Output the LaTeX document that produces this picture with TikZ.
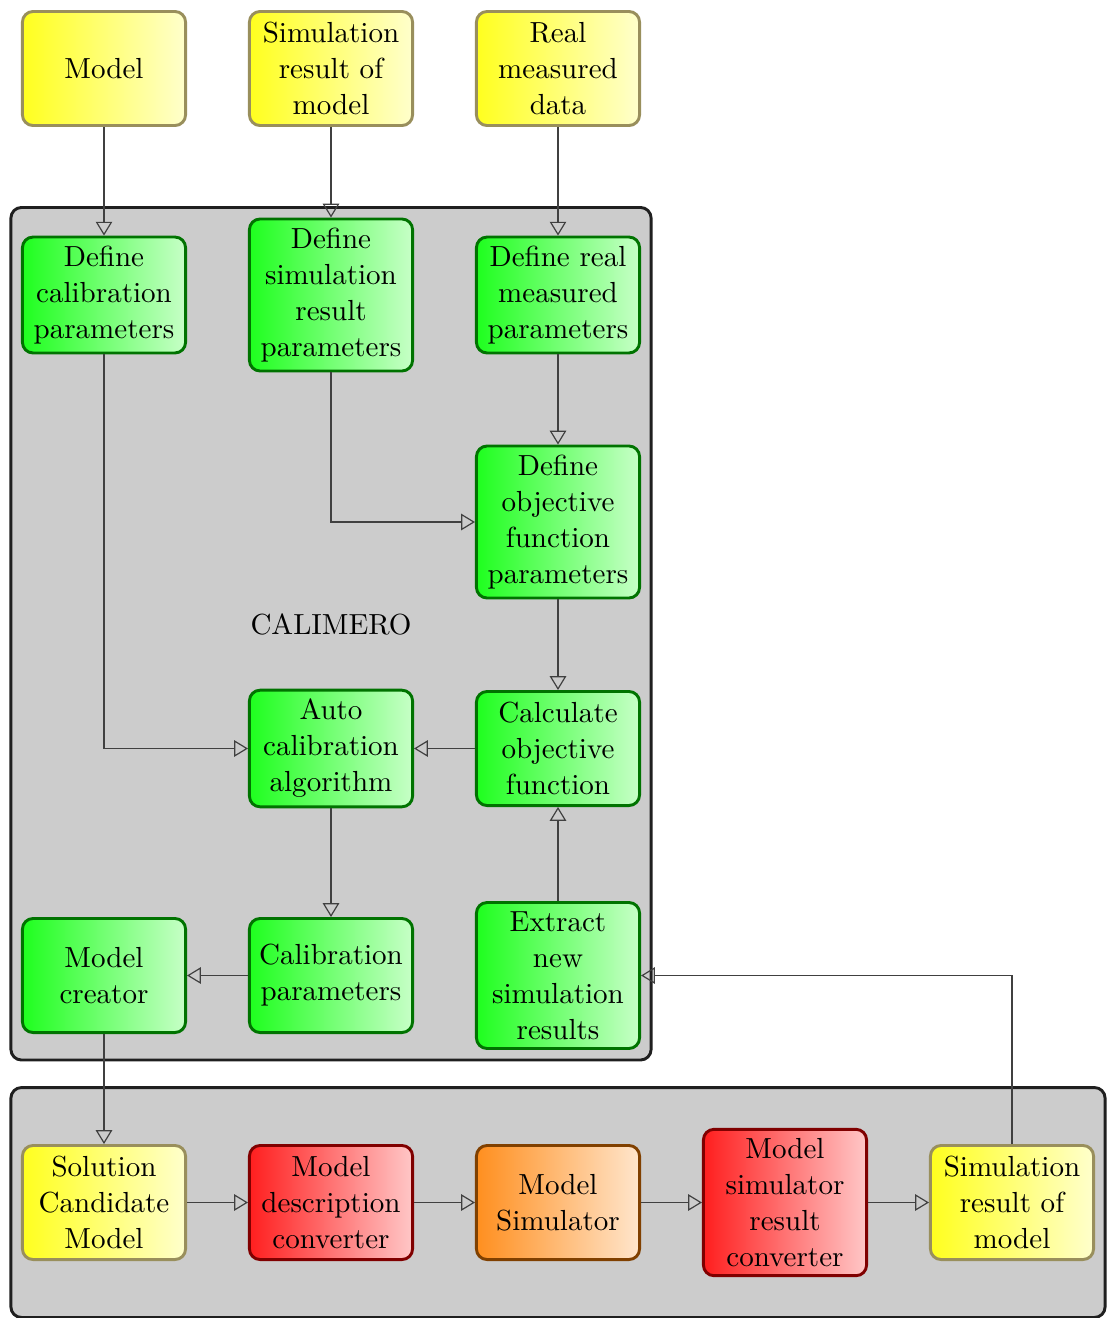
\documentclass[tikz,border=0pt]{standalone}
\usetikzlibrary{arrows.meta,fit,backgrounds}
\definecolor{yborder}{RGB}{153,143,92}
\definecolor{gborder}{RGB}{0,115,0}
\begin{document}
\begin{tikzpicture}[x=0.377pt,y=-0.377pt,
  box/.style={rectangle, rounded corners=4pt, line width=1.1pt,
    minimum width=61.5pt, minimum height=43pt, align=center,
    font=\fontsize{10.95}{13.6}\selectfont},
  ybox/.style={box, draw=yborder, left color=yellow!88, right color=yellow!20},
  gbox/.style={box, draw=gborder, left color=green!88, right color=green!22},
  rbox/.style={box, draw=red!50!black, left color=red!88, right color=red!22},
  obox/.style={box, draw=orange!50!black, left color=orange!88, right color=orange!20},
  container/.style={rectangle, rounded corners=4pt, line width=1.1pt,
    draw=black!88, fill=black!20, inner sep=3.8pt},
  flow/.style={draw=black!75, line width=0.45pt,
    -{Triangle[open,length=5.2pt,width=6.2pt]}}]
  \useasboundingbox (0,0) rectangle (1111,1318);

  % inputs
  \node[ybox] (model)  at (104,68.5) {Model};
  \node[ybox] (simin)  at (331,68.5) {Simulation\\result of\\model};
  \node[ybox] (real)   at (558,68.5) {Real\\measured\\data};

  % CALIMERO steps
  \node[gbox] (defcal)  at (104,295) {Define\\calibration\\parameters};
  \node[gbox] (defsim)  at (331,295) {Define\\simulation\\result\\parameters};
  \node[gbox] (defreal) at (558,295) {Define real\\measured\\parameters};
  \node[gbox] (defobj)  at (558,522) {Define\\objective\\function\\parameters};
  \node[gbox] (auto)    at (331,748.5) {Auto\\calibration\\algorithm};
  \node[gbox] (calcobj) at (558,748.5) {Calculate\\objective\\function};
  \node[gbox] (creator) at (104,975.5) {Model\\creator};
  \node[gbox] (calpar)  at (331,975.5) {Calibration\\parameters};
  \node[gbox] (extract) at (558,975.5) {Extract\\new\\simulation\\results};

  % simulation chain
  \node[ybox] (cand)    at (104,1202.5) {Solution\\Candidate\\Model};
  \node[rbox] (descconv) at (331,1202.5) {Model\\description\\converter};
  \node[obox] (sim)     at (558,1202.5) {Model\\Simulator};
  \node[rbox] (resconv) at (785,1202.5) {Model\\simulator\\result\\converter};
  \node[ybox] (simout)  at (1012,1202.5) {Simulation\\result of\\model};

  \begin{scope}[on background layer]
    \node[container, fit=(defcal)(defsim)(extract)(creator)] (calimero) {};
    \node[container, fit=(cand)(resconv)(simout), inner ysep=15.2pt] (runner) {};
  \end{scope}
  \node[font=\fontsize{10.95}{13.6}\selectfont] (calimerolabel) at (331,624) {CALIMERO};

  % connectors
  \draw[flow] (model) -- (defcal);
  \draw[flow] (simin) -- (defsim);
  \draw[flow] (real) -- (defreal);
  \draw[flow] (defreal) -- (defobj);
  \draw[flow] (defsim) |- (defobj);
  \draw[flow] (defcal) |- (auto);
  \draw[flow] (defobj) -- (calcobj);
  \draw[flow] (calcobj) -- (auto);
  \draw[flow] (auto) -- (calpar);
  \draw[flow] (calpar) -- (creator);
  \draw[flow] (extract) -- (calcobj);
  \draw[flow] (creator) -- (cand);
  \draw[flow] (cand) -- (descconv);
  \draw[flow] (descconv) -- (sim);
  \draw[flow] (sim) -- (resconv);
  \draw[flow] (resconv) -- (simout);
  \draw[flow] (simout) |- (extract);
\end{tikzpicture}
\end{document}
